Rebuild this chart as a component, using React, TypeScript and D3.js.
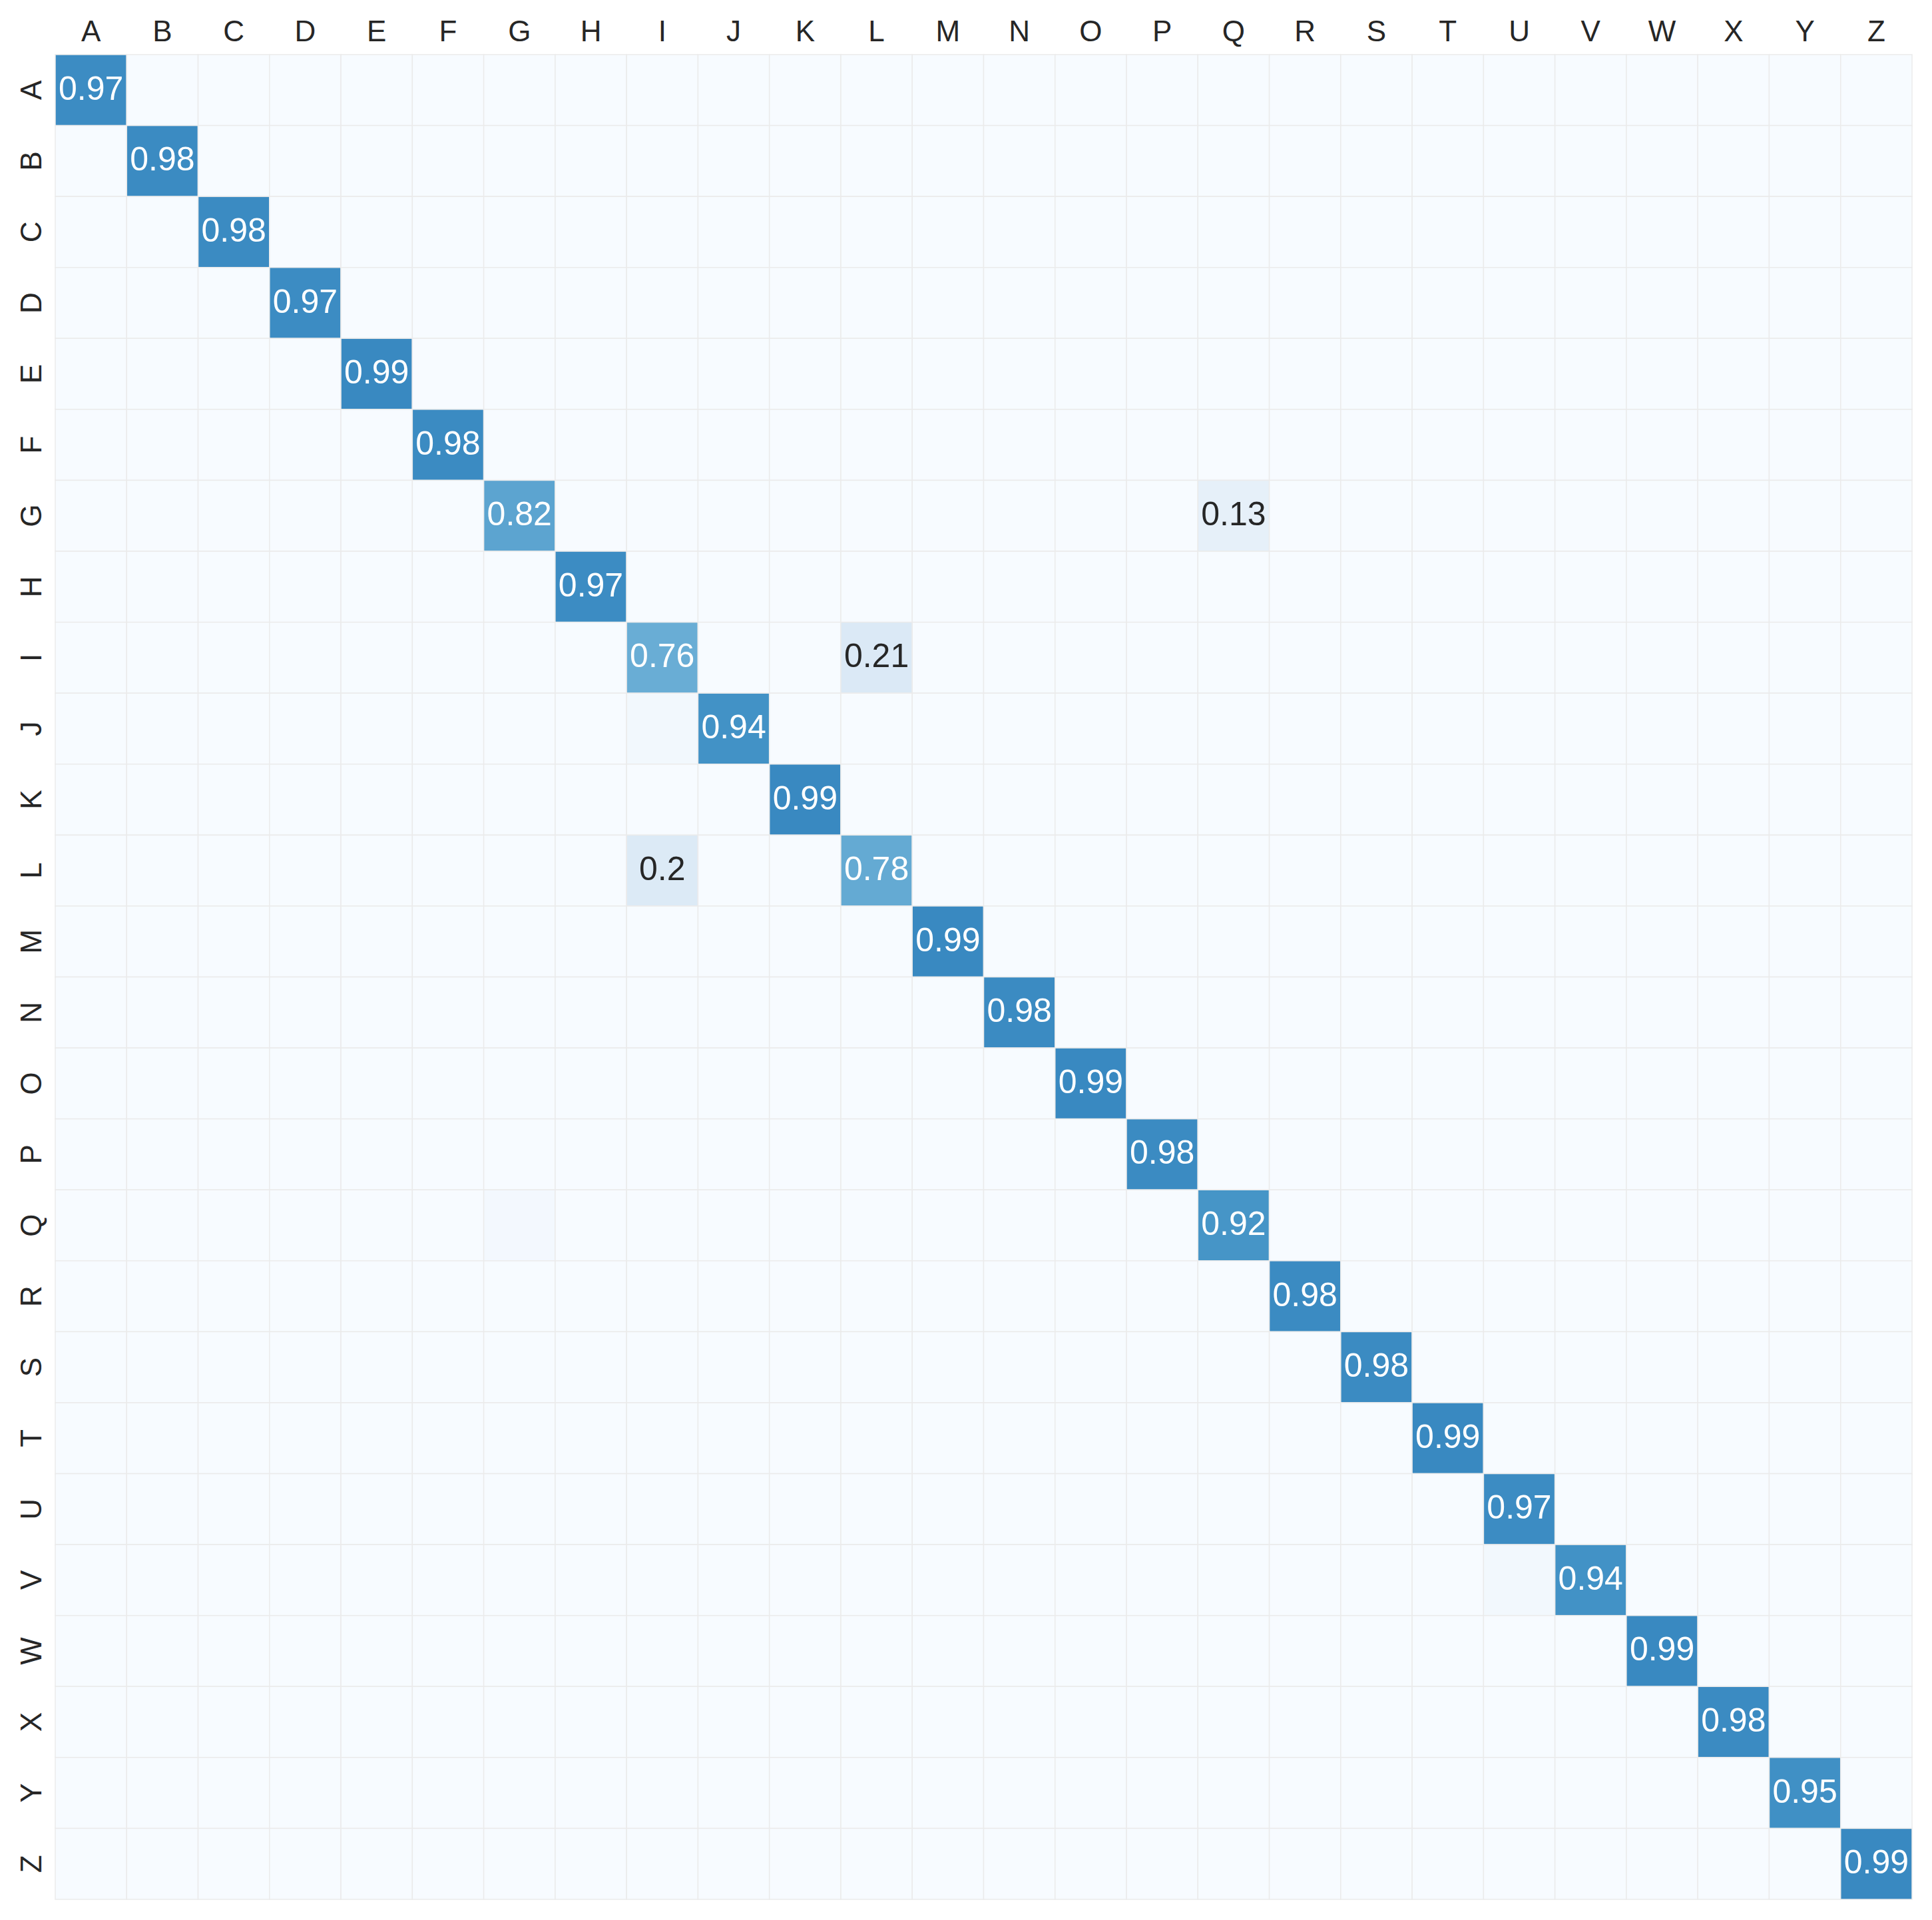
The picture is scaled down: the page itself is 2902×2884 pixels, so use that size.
import * as d3 from "d3";
import React, { useEffect, useRef } from "react";

const labels = "ABCDEFGHIJKLMNOPQRSTUVWXYZ".split("");

// diagonal (correct class) rates, in label order
const diagValues = [
  0.97, 0.98, 0.98, 0.97, 0.99, 0.98, 0.82, 0.97, 0.76, 0.94, 0.99, 0.78, 0.99,
  0.98, 0.99, 0.98, 0.92, 0.98, 0.98, 0.99, 0.97, 0.94, 0.99, 0.98, 0.95, 0.99,
];

// off-diagonal confusions [true row, predicted col, rate]
const offDiag = [
  ["G", "Q", 0.13],
  ["I", "L", 0.21],
  ["L", "I", 0.2],
  ["J", "I", 0.04],
  ["V", "U", 0.04],
  ["Q", "G", 0.03],
];

const blues = [
  "#f7fbff", "#deebf7", "#c6dbef", "#9ecae1", "#6baed6",
  "#4292c6", "#2171b5", "#08519c", "#08306b",
];

const Heatmap = () => {
  const ref = useRef(null);

  useEffect(() => {
    const width = 2902;
    const height = 2884;
    const left = 83, right = 2872, top = 82, bottom = 2853;

    const svg = d3.select(ref.current).attr("width", width).attr("height", height);
    svg.selectAll("*").remove();

    const x = d3.scaleBand().domain(labels).range([left, right]).padding(0);
    const y = d3.scaleBand().domain(labels).range([top, bottom]).padding(0);

    // Blues ramp, vmax = 1.5
    const ramp = d3
      .scaleLinear()
      .domain(d3.range(9).map((i) => i / 8))
      .range(blues)
      .interpolate(d3.interpolateRgb)
      .clamp(true);
    const color = (v) => ramp(v / 1.5);

    const cells = [];
    labels.forEach((r, i) => {
      labels.forEach((c, j) => {
        let v = 0;
        if (i === j) v = diagValues[i];
        const o = offDiag.find((d) => d[0] === r && d[1] === c);
        if (o) v = o[2];
        cells.push({ r, c, v });
      });
    });

    const lum = (col) => {
      const rgb = d3.rgb(col);
      const f = (u) => {
        u = u / 255;
        return u <= 0.03928 ? u / 12.92 : Math.pow((u + 0.055) / 1.055, 2.4);
      };
      return 0.2126 * f(rgb.r) + 0.7152 * f(rgb.g) + 0.0722 * f(rgb.b);
    };

    svg
      .append("rect")
      .attr("width", width)
      .attr("height", height)
      .attr("fill", "#ffffff");

    svg
      .append("g")
      .selectAll("rect")
      .data(cells)
      .enter()
      .append("rect")
      .attr("x", (d) => x(d.c))
      .attr("y", (d) => y(d.r))
      .attr("width", x.bandwidth())
      .attr("height", y.bandwidth())
      .attr("fill", (d) => color(d.v))
      .attr("stroke", "#ebebeb")
      .attr("stroke-width", 1.5);

    const fs = 50;
    svg
      .append("g")
      .selectAll("text")
      .data(cells.filter((d) => d.v >= 0.1))
      .enter()
      .append("text")
      .attr("x", (d) => x(d.c) + x.bandwidth() / 2)
      .attr("y", (d) => y(d.r) + y.bandwidth() / 2 + fs * 0.29)
      .attr("text-anchor", "middle")
      .style("font-family", "Liberation Sans, Arial, sans-serif")
      .style("font-size", fs + "px")
      .attr("fill", (d) => (lum(color(d.v)) > 0.408 ? "#262626" : "#ffffff"))
      .text((d) => String(+d.v.toFixed(2)));

    // column labels on top
    svg
      .append("g")
      .selectAll("text")
      .data(labels)
      .enter()
      .append("text")
      .attr("x", (d) => x(d) + x.bandwidth() / 2)
      .attr("y", 62)
      .attr("text-anchor", "middle")
      .style("font-family", "Liberation Sans, Arial, sans-serif")
      .style("font-size", "44px")
      .attr("fill", "#262626")
      .text((d) => d);

    // row labels, rotated
    svg
      .append("g")
      .selectAll("text")
      .data(labels)
      .enter()
      .append("text")
      .attr("transform", (d) => `translate(61.5, ${y(d) + y.bandwidth() / 2}) rotate(-90)`)
      .attr("text-anchor", "middle")
      .style("font-family", "Liberation Sans, Arial, sans-serif")
      .style("font-size", "44px")
      .attr("fill", "#262626")
      .text((d) => d);
  }, []);

  return <svg ref={ref} style={{ position: "absolute", left: 0, top: 0 }}></svg>;
};

export default function App() {
  return <Heatmap />;
}
